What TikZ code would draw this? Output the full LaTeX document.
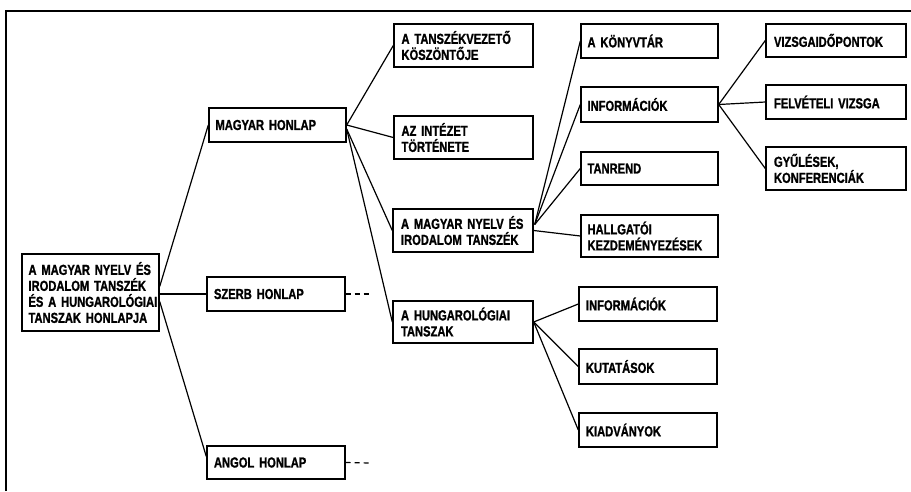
\documentclass[tikz,border=0pt]{standalone}
\usepackage{fontspec}
\setmainfont{Liberation Sans}[FakeStretch=0.77, BoldFeatures={FakeBold=1.2}]
\usetikzlibrary{calc}
\tikzset{
  box/.style={draw, line width=1.4pt, inner xsep=6pt, inner ysep=0pt,
    text width=124pt, align=left,
    font=\fontsize{14.5}{16}\selectfont\bfseries,
    minimum width=#1},
  conn/.style={line width=1.2pt},
  dashconn/.style={line width=1.2pt, dash pattern=on 5pt off 4pt},
  frame/.style={line width=1.5pt}
}
\begin{document}
\hyphenpenalty=10000
\uchyph=0
\hbadness=10000
\hfuzz=100pt
\begin{tikzpicture}[x=1pt,y=-1pt]
\useasboundingbox (0,0) rectangle (911,491);
\draw[frame] (6,491) -- (6,11) -- (911,11);

% level 0
\node[box=137pt, minimum height=77pt] (root) at (90.5,292.5) {A~MAGYAR~NYELV~ÉS\\IRODALOM~TANSZÉK\\ÉS~A~HUNGAROLÓGIAI\\TANSZAK~HONLAPJA};
% level 1
\node[box=137pt, minimum height=34pt] (mh) at (277.5,125) {MAGYAR~HONLAP};
\node[box=138pt, minimum height=34pt] (sz) at (276,294) {SZERB~HONLAP};
\node[box=138pt, minimum height=33pt] (an) at (276,462.5) {ANGOL~HONLAP};
% level 2
\node[box=139pt, minimum height=43pt] (t1) at (463.5,45.5) {A~TANSZÉKVEZETŐ\\KÖSZÖNTŐJE};
\node[box=139pt, minimum height=43pt] (t2) at (463.5,137.5) {AZ~INTÉZET\\TÖRTÉNETE};
\node[box=140pt, minimum height=43pt] (t3) at (463,230.5) {A~MAGYAR~NYELV~ÉS\\IRODALOM~TANSZÉK};
\node[box=140pt, minimum height=42pt] (t4) at (463,322) {A~HUNGAROLÓGIAI\\TANSZAK};
% level 3
\node[box=137pt, minimum height=34pt] (k1) at (649.5,41) {A~KÖNYVTÁR};
\node[box=137pt, minimum height=35pt] (k2) at (649.5,104.5) {INFORMÁCIÓK};
\node[box=137pt, minimum height=33pt] (k3) at (649.5,168.5) {TANREND};
\node[box=137pt, minimum height=42pt] (k4) at (649.5,236) {HALLGATÓI\\KEZDEMÉNYEZÉSEK};
\node[box=138pt, minimum height=34pt] (h1) at (648,304) {INFORMÁCIÓK};
\node[box=138pt, minimum height=35pt] (h2) at (648,366.5) {KUTATÁSOK};
\node[box=138pt, minimum height=34pt] (h3) at (648,430) {KIADVÁNYOK};
% level 4
\node[box=140pt, minimum height=33pt] (v1) at (836,40.5) {VIZSGAIDŐPONTOK};
\node[box=140pt, minimum height=34pt] (v2) at (836,102) {FELVÉTELI~VIZSGA};
\node[box=140pt, minimum height=43pt] (v3) at (836,168.5) {GYŰLÉSEK,\\KONFERENCIÁK};

\coordinate (szend) at (370,294);
\coordinate (anend) at (370,463);

% connectors
\draw[conn] ($(root.east)+(0,-6)$) -- (mh.west);
\draw[conn] ($(root.east)+(0,1.5)$) -- (sz.west);
\draw[conn] ($(root.east)+(0,9)$) -- ($(an.west)+(0,-6)$);
\draw[dashconn] (sz.east) -- (szend);
\draw[dashconn] (an.east) -- (anend);

\draw[conn] (mh.east) -- (t1.west);
\draw[conn] (mh.east) -- (t2.west);
\draw[conn] ($(mh.east)+(0,4)$) -- (t3.west);
\draw[conn] ($(mh.east)+(0,4)$) -- (t4.west);

\draw[conn] ($(t3.east)+(1,-6)$) -- (k1.west);
\draw[conn] ($(t3.east)+(1,-6)$) -- (k2.west);
\draw[conn] ($(t3.east)+(1,-6)$) -- (k3.west);
\draw[conn] (t3.east) -- (k4.west);

\draw[conn] (k2.east) -- (v1.west);
\draw[conn] (k2.east) -- (v2.west);
\draw[conn] (k2.east) -- (v3.west);

\draw[conn] (t4.east) -- (h1.west);
\draw[conn] (t4.east) -- (h2.west);
\draw[conn] (t4.east) -- (h3.west);
\end{tikzpicture}
\end{document}
